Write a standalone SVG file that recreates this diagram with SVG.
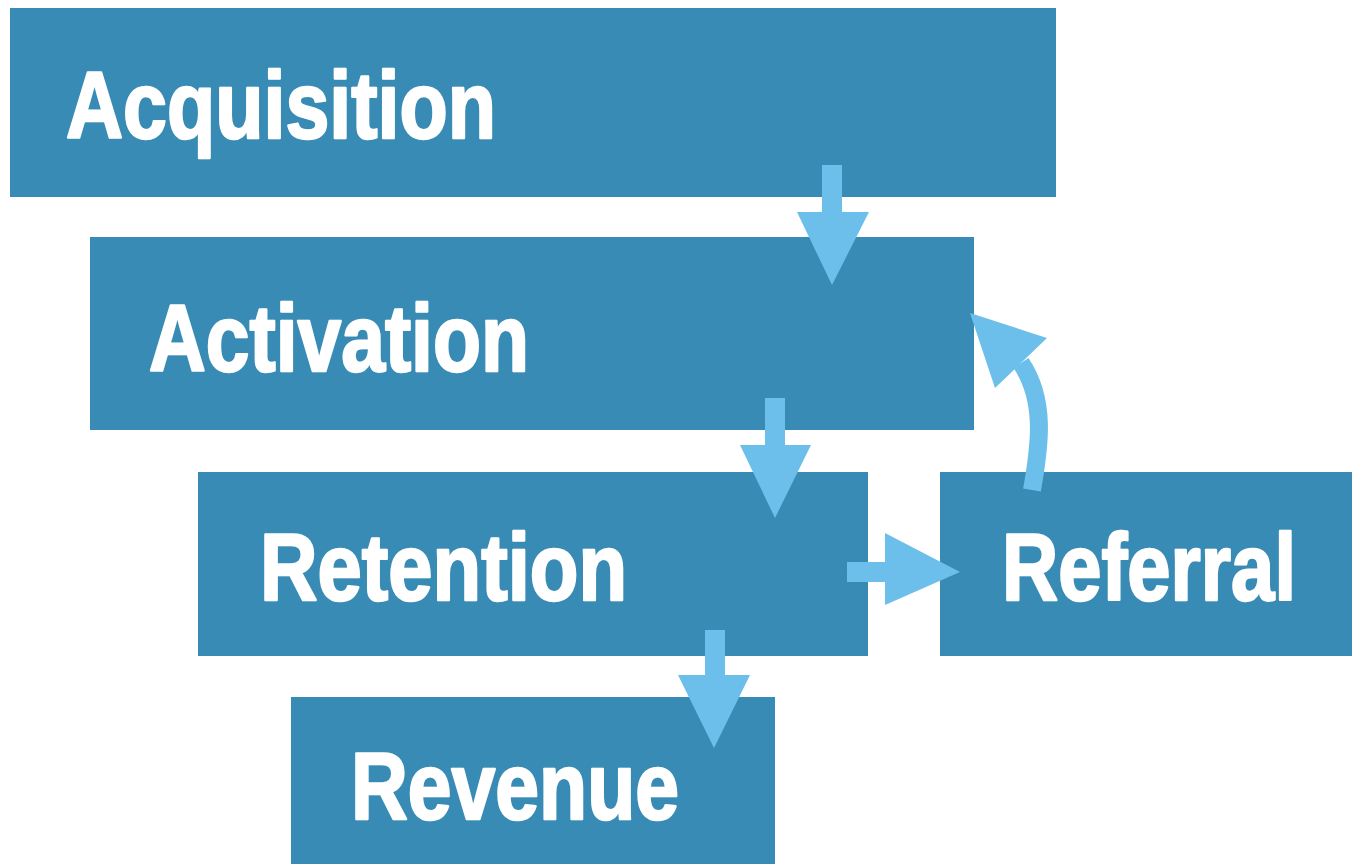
<svg xmlns="http://www.w3.org/2000/svg" width="1352" height="864" viewBox="0 0 1352 864">
<style>
.box{fill:#388bb4}
.lbl{font-family:"Liberation Sans",Arial,sans-serif;font-weight:bold;font-size:94px;fill:#ffffff;stroke:#ffffff;stroke-width:2.5;stroke-linejoin:round}
.arr{fill:#6cbfea}
</style>
<rect width="1352" height="864" fill="#ffffff"/>
<g id="acquisition"><rect class="box" x="10" y="8" width="1046" height="189"/><text class="lbl" x="66" y="138" textLength="430" lengthAdjust="spacingAndGlyphs">Acquisition</text></g>
<g id="activation"><rect class="box" x="90" y="237" width="884" height="193"/><text class="lbl" x="149" y="371" textLength="380" lengthAdjust="spacingAndGlyphs">Activation</text></g>
<g id="retention"><rect class="box" x="198" y="472" width="670" height="184"/><text class="lbl" x="260" y="600" textLength="367" lengthAdjust="spacingAndGlyphs">Retention</text></g>
<g id="referral"><rect class="box" x="940" y="472" width="412" height="184"/><text class="lbl" x="1002" y="600" textLength="294" lengthAdjust="spacingAndGlyphs">Referral</text></g>
<g id="revenue"><rect class="box" x="291" y="697" width="484" height="167"/><text class="lbl" x="351" y="819" textLength="328" lengthAdjust="spacingAndGlyphs">Revenue</text></g>
<g id="connectors">
<polygon class="arr" points="822,165 842,165 842,212 869,212 832,285 797,212 822,212"/>
<polygon class="arr" points="765,398 785,398 785,445 811,445 775,518 740,445 765,445"/>
<polygon class="arr" points="847,562 885,562 885,533 960,572 885,605 885,582 847,582"/>
<polygon class="arr" points="705,630 725,630 725,675 750,675 714,748 678,675 705,675"/>
<path d="M1032,490 C1040,445 1046,400 1021,363" fill="none" stroke="#6cbfea" stroke-width="18"/>
<polygon class="arr" points="970,313 1047,338 995,388"/>
</g>
</svg>
